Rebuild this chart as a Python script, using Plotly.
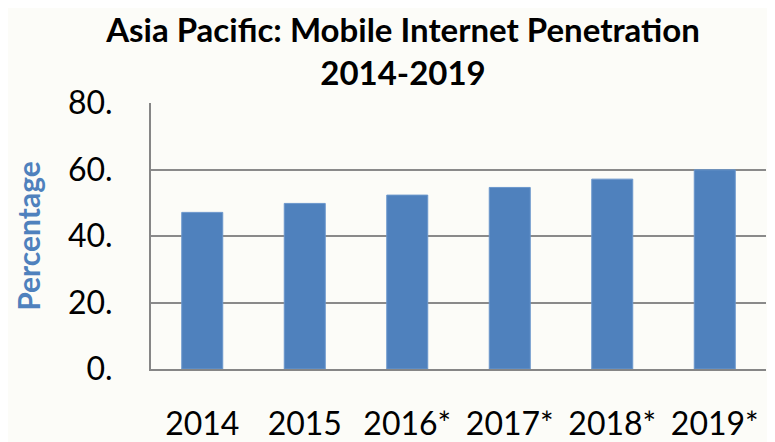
import plotly.graph_objects as go

years = ["2014", "2015", "2016*", "2017*", "2018*", "2019*"]
penetration = [47.1, 49.8, 52.3, 54.6, 57.1, 59.9]
y_ticks = [0, 20, 40, 60, 80]
y_tick_labels = ["0.", "20.", "40.", "60.", "80."]

# page body has an 8px default margin, so the figure is a bit smaller than the window
fig = go.Figure(go.Bar(
    x=years,
    y=penetration,
    marker=dict(color="#4F81BD", line=dict(color="#6B97CC", width=1)),
))

fig.update_layout(
    width=767,
    height=434,
    margin=dict(l=143, r=9, t=95, b=73),
    paper_bgcolor="#FCFCF8",
    plot_bgcolor="#FCFCF8",
    bargap=0.6,
    showlegend=False,
    font=dict(family="Lato, Calibri, sans-serif", color="#000000"),
    title=dict(
        text="<b>Asia Pacific: Mobile Internet Penetration<br>2014-2019</b>",
        font=dict(size=33, color="#000000"),
        x=0.515,
        xanchor="center",
        xref="container",
        y=0.922,
        yanchor="middle",
        yref="container",
    ),
)

fig.update_xaxes(
    showgrid=False,
    showline=True,
    linecolor="#868686",
    linewidth=2,
    tickfont=dict(size=32),
    ticks="",
    ticklabelstandoff=26,
    automargin=False,
)

fig.update_yaxes(
    range=[0, 80],
    tickvals=y_ticks,
    ticktext=y_tick_labels,
    showgrid=True,
    gridcolor="#8A8A8A",
    gridwidth=1.5,
    showline=True,
    linecolor="#868686",
    linewidth=2,
    zeroline=False,
    tickfont=dict(size=32),
    ticklabelstandoff=30,
    automargin=False,
    title=dict(
        text="<b>Percentage</b>",
        font=dict(size=30, color="#4F81BD"),
        standoff=18,
    ),
)

fig.write_html("out.html")
